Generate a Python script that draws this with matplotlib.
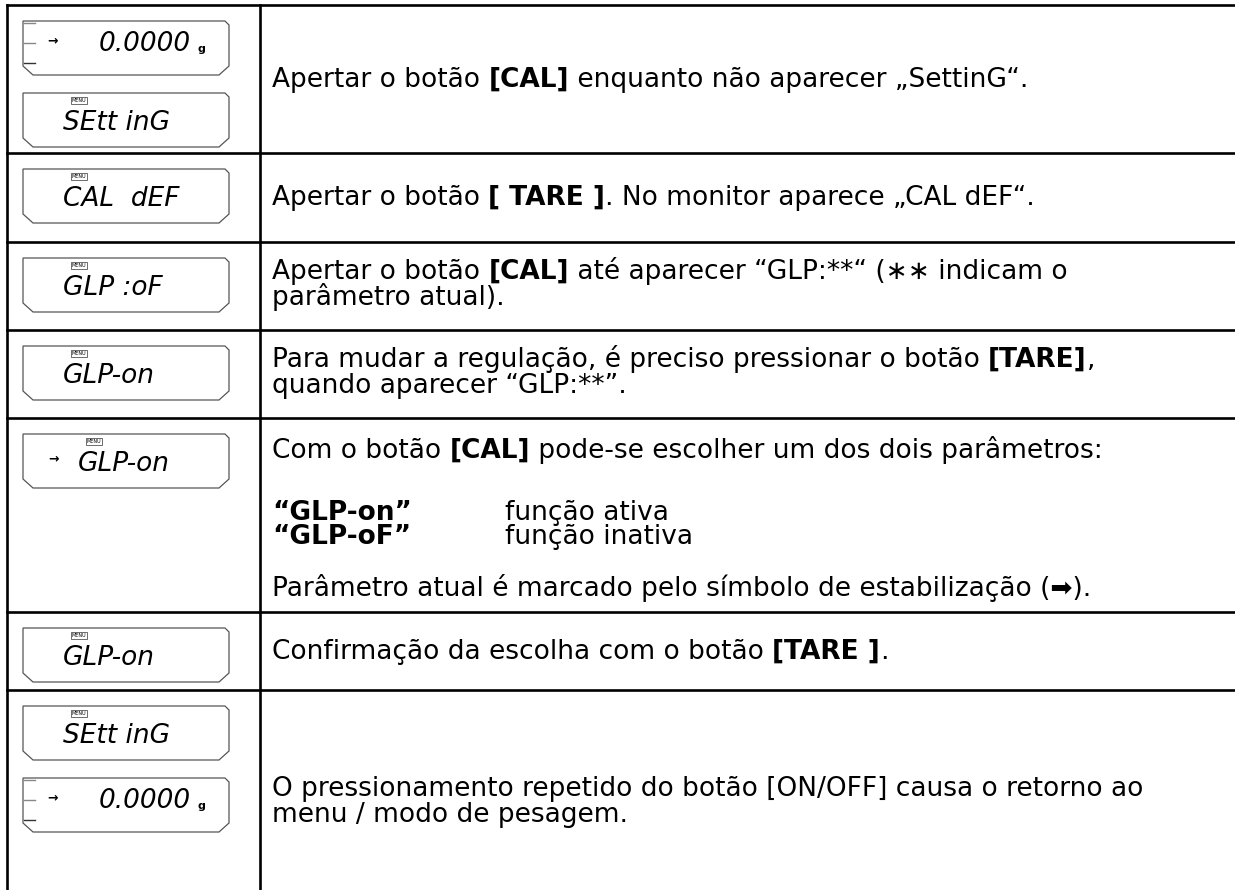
import matplotlib.pyplot as plt
from matplotlib.patches import Polygon

W, H = 1235, 890
FONT = ['DejaVu Sans']
SIZE = 19

# table layout (pixels)
row_edges = [5, 153, 242, 330, 418, 612, 690]
left_x = 7
col_x = 260
text_x = 272

# left column: what the balance display shows in each step
displays = [
    [("0.0000", "weigh"), ("SEtt inG", "menu")],
    [("CAL  dEF", "menu")],
    [("GLP :oF", "menu")],
    [("GLP-on", "menu")],
    [("GLP-on", "stable")],
    [("GLP-on", "menu")],
    [("SEtt inG", "menu"), ("0.0000", "weigh")],
]

# right column: instructions, each line is a list of (text, bold)
instructions = [
    [[("Apertar o botão ", 0), ("[CAL]", 1), (" enquanto não aparecer „SettinG“.", 0)]],
    [[("Apertar o botão ", 0), ("[ TARE ]", 1), (". No monitor aparece „CAL dEF“.", 0)]],
    [[("Apertar o botão ", 0), ("[CAL]", 1), (" até aparecer “GLP:**“ (∗∗ indicam o", 0)],
     [("parâmetro atual).", 0)]],
    [[("Para mudar a regulação, é preciso pressionar o botão ", 0), ("[TARE]", 1), (",", 0)],
     [("quando aparecer “GLP:**”.", 0)]],
    [[("Com o botão ", 0), ("[CAL]", 1), (" pode-se escolher um dos dois parâmetros:", 0)],
     [("“GLP-on”", 1)],
     [("“GLP-oF”", 1)],
     [("Parâmetro atual é marcado pelo símbolo de estabilização (➡).", 0)]],
    [[("Confirmação da escolha com o botão ", 0), ("[TARE ]", 1), (".", 0)]],
    [[("O pressionamento repetido do botão [ON/OFF] causa o retorno ao", 0)],
     [("menu / modo de pesagem.", 0)]],
]
option_desc = ["função ativa", "função inativa"]

# baseline offsets of each text line from the row top
line_offsets = [
    [82],
    [52],
    [37, 63],
    [37, 63],
    [40, 102, 126, 178],
    [47],
    [106, 132],
]

fig = plt.figure(figsize=(W / 100, H / 100), dpi=100)
ax = fig.add_axes([0, 0, 1, 1])
ax.set_xlim(0, W)
ax.set_ylim(H, 0)
ax.axis('off')
r = fig.canvas.get_renderer()


def advance(txt, bold):
    # width of a text piece including spaces
    kw = dict(fontsize=SIZE, family=FONT, fontweight='bold' if bold else 'normal')
    t1 = ax.text(0, 0, txt + "|", **kw)
    t2 = ax.text(0, 0, "|", **kw)
    w = t1.get_window_extent(r).width - t2.get_window_extent(r).width
    t1.remove()
    t2.remove()
    return w


def rich_line(x, y, parts):
    for txt, bold in parts:
        ax.text(x, y, txt, fontsize=SIZE, family=FONT, va='baseline', ha='left',
                fontweight='bold' if bold else 'normal')
        x += advance(txt, bold)


def lcd_box(x0, y0, label, kind, w=206, h=54):
    pts = [(x0, y0), (x0 + w - 4, y0), (x0 + w, y0 + 4), (x0 + w, y0 + h - 9),
           (x0 + w - 10, y0 + h), (x0 + 10, y0 + h), (x0, y0 + h - 9)]
    ax.add_patch(Polygon(pts, closed=True, fill=False, ec='#555555', lw=0.9))
    if kind == "weigh":
        for frac, c in ((0.04, '#888888'), (0.40, '#888888'), (0.78, '#333333')):
            ax.plot([x0 + 1, x0 + 12], [y0 + h * frac] * 2, color=c, lw=1.0)
        ax.text(x0 + 30, y0 + h * 0.36, "→", fontsize=9, fontweight='bold',
                family='DejaVu Sans', ha='center', va='center')
        ax.text(x0 + 168, y0 + h * 0.42, label, fontsize=19, style='italic',
                family='DejaVu Sans', ha='right', va='center')
        ax.text(x0 + 175, y0 + h * 0.52, "g", fontsize=8, fontweight='bold',
                family='DejaVu Sans', ha='left', va='center')
    else:
        tx = x0 + 40 if kind != "stable" else x0 + 55
        ax.text(tx, y0 + h * 0.55, label, fontsize=19, style='italic',
                family='DejaVu Sans', ha='left', va='center')
        ax.text(tx + 16, y0 + h * 0.14, "MENU", fontsize=3.5, family='DejaVu Sans',
                ha='center', va='center',
                bbox=dict(boxstyle='square,pad=0.15', fc='white', ec='#333333', lw=0.5))
        if kind == "stable":
            ax.text(x0 + 31, y0 + h * 0.45, "→", fontsize=9, fontweight='bold',
                    family='DejaVu Sans', ha='center', va='center')


LW = 1.9
for y in row_edges:
    ax.plot([left_x, W], [y, y], color='black', lw=LW)
ax.plot([left_x, left_x], [row_edges[0], H], color='black', lw=LW)
ax.plot([col_x, col_x], [row_edges[0], H], color='black', lw=LW)

for i, boxes in enumerate(displays):
    top = row_edges[i]
    for j, (label, kind) in enumerate(boxes):
        lcd_box(23, top + 16 + j * 72, label, kind)
    for k, parts in enumerate(instructions[i]):
        y = top + line_offsets[i][k]
        rich_line(text_x, y, parts)
        if i == 4 and k in (1, 2):
            rich_line(505, y, [(option_desc[k - 1], 0)])

fig.savefig("out.png", dpi=100)
